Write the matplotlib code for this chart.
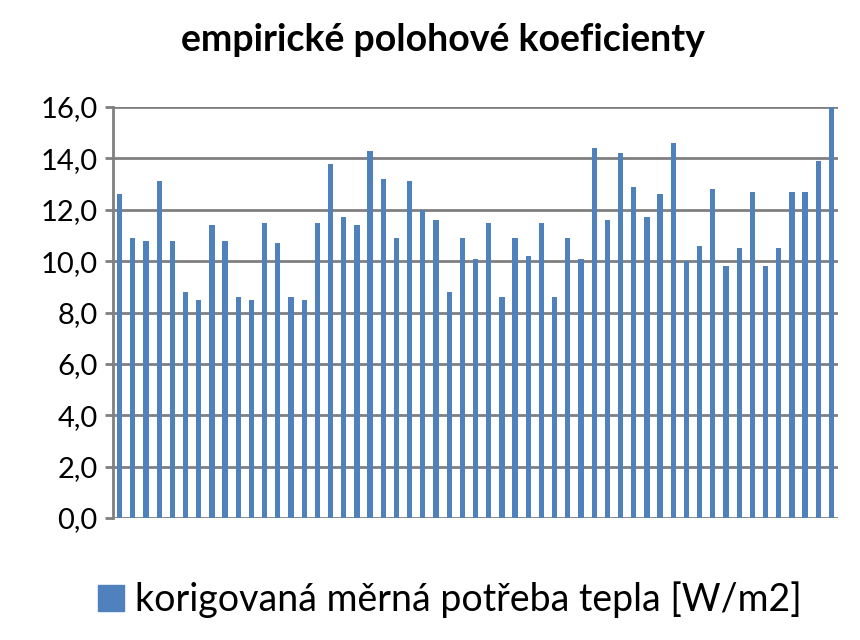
import matplotlib
matplotlib.use("Agg")
import matplotlib.pyplot as plt
from matplotlib.patches import Patch

values = [12.6, 10.9, 10.8, 13.1, 10.8, 8.8, 8.5, 11.4, 10.8, 8.6, 8.5, 11.5, 10.7, 8.6, 8.5,
          11.5, 13.8, 11.7, 11.4, 14.3, 13.2, 10.9, 13.1, 12.0, 11.6, 8.8, 10.9, 10.1, 11.5, 8.6,
          10.9, 10.2, 11.5, 8.6, 10.9, 10.1, 14.4, 11.6, 14.2, 12.9, 11.7, 12.6, 14.6, 10.0, 10.6,
          12.8, 9.8, 10.5, 12.7, 9.8, 10.5, 12.7, 12.7, 13.9, 16.0]
yticks = [0, 2, 4, 6, 8, 10, 12, 14, 16]
ytick_labels = ["0,0", "2,0", "4,0", "6,0", "8,0", "10,0", "12,0", "14,0", "16,0"]
series_name = "korigovaná měrná potřeba tepla [W/m2]"
title = "empirické polohové koeficienty"

plt.rcParams['font.family'] = ['Lato', 'DejaVu Sans']
color = "#4F81BD"
fig = plt.figure(figsize=(8.6, 6.4), dpi=100)
ax = fig.add_axes([113/860, 1-518/640, 725/860, 411/640])
x = list(range(len(values)))
ax.bar(x, values, width=0.4, color=color, zorder=3)
ax.set_xlim(-0.5, len(values) - 0.5)
ax.set_ylim(0, 16)
ax.set_yticks(yticks)
ax.set_yticklabels(ytick_labels, fontsize=21)
ax.set_xticks([])
ax.grid(axis='y', color='#808080', linewidth=2, zorder=0)
for s in ['top', 'right', 'bottom']:
    ax.spines[s].set_visible(False)
ax.spines['left'].set_color('#808080')
ax.spines['left'].set_linewidth(2)
ax.tick_params(axis='y', length=6, width=2, color='#808080', pad=5)
fig.text(0.515, 1-40/640, title, ha='center', va='center', fontsize=27, fontweight='bold')
fig.legend(handles=[Patch(color=color)], labels=[series_name], loc='center',
           bbox_to_anchor=(450/860, 1-600/640), frameon=False, fontsize=27,
           handlelength=0.7, handleheight=0.7, handletextpad=0.3)
fig.savefig("out.png", dpi=100)
